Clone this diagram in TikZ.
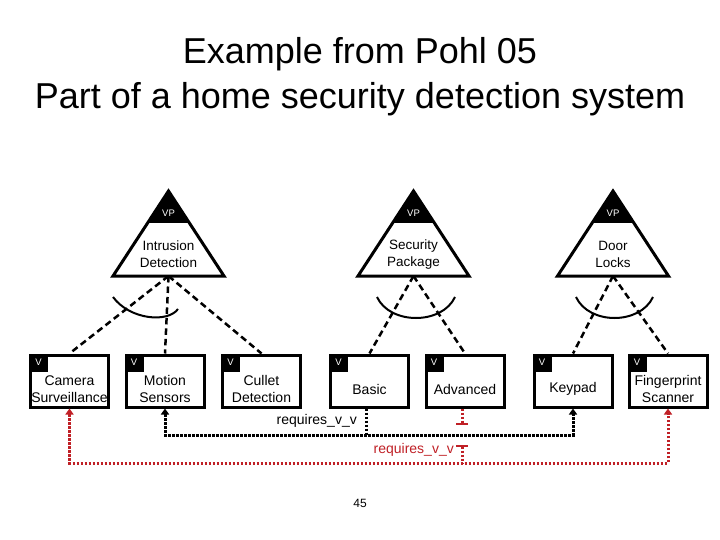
\documentclass[tikz,border=0pt]{standalone}
\usepackage{fontspec}
\setmainfont{Liberation Sans}
\usetikzlibrary{arrows.meta}
\definecolor{reqred}{RGB}{192,32,38}
\tikzset{
  varboxst/.style={draw, line width=3pt, minimum width=78pt, minimum height=52pt, inner sep=0pt},
  btext/.style={align=center, font=\fontsize{14}{17}\selectfont, inner sep=0pt},
  ttext/.style={align=center, font=\fontsize{13.5}{17}\selectfont, inner sep=0pt},
  tagtext/.style={text=white, font=\fontsize{9.5}{10}\selectfont, inner sep=0pt},
  tri/.style={draw, line width=3pt, line join=miter},
  vpdash/.style={line width=2.5pt, dash pattern=on 6.5pt off 4pt},
  varc/.style={line width=2pt},
  reqblk/.style={line width=3pt, dash pattern=on 2.5pt off 1.5pt, black},
  reqrd/.style={line width=3pt, dash pattern=on 2.5pt off 1.5pt, reqred},
  tipb/.style={{Triangle[width=8pt,length=6pt]}-{Triangle[width=8pt,length=6pt]}},
  reqlabel/.style={font=\fontsize{14}{17}\selectfont, inner sep=0pt}
}
\newcommand\vptriangle[3]{%
  \fill ({#2},191) -- ({#2-20.9},223) -- ({#2+20.9},223) -- cycle;
  \draw[tri] ({#2},191) -- ({#2-55.5},276) -- ({#2+55.5},276) -- cycle;
  \node[tagtext] (#1vp) at ({#2},213.5) {VP};
  \node[ttext] (#1) at ({#2},254.5) {#3};
  \coordinate (#1b) at ({#2},276);
}
\newcommand\varbox[3]{%
  \node[varboxst] (#1) at ({#2},381) {};
  \fill (#1.north west) rectangle ++(19,18);
  \node[tagtext] (#1v) at ([shift={(9.5,9)}]#1.north west) {V};
  \node[btext] (#1t) at ({#2},389) {#3};
}
\begin{document}
\begin{tikzpicture}[x=1pt,y=-1pt]
\fill[white] (0,0) rectangle (720,540);
\useasboundingbox (0,0) rectangle (720,540);

\node[align=center, font=\fontsize{36}{45}\selectfont, inner sep=0pt] (title) at (360,77)
  {Example from Pohl 05\\Part of a home security detection system};

\vptriangle{intr}{168.5}{Intrusion\\Detection}
\vptriangle{sec}{413.5}{Security\\Package}
\vptriangle{door}{613}{Door\\Locks}

\varbox{cam}{69.5}{Camera\\Surveillance}
\varbox{ms}{165}{Motion\\Sensors}
\varbox{cd}{261.5}{Cullet\\Detection}
\varbox{basic}{369.5}{Basic}
\varbox{adv}{465}{Advanced}
\varbox{kp}{573}{Keypad}
\varbox{fp}{668}{Fingerprint\\Scanner}

% variation point links
\draw[vpdash] (intrb) -- (cam.north);
\draw[vpdash] (intrb) -- (ms.north);
\draw[vpdash] (intrb) -- (cd.north);
\draw[vpdash] (secb) -- (basic.north);
\draw[vpdash] (secb) -- (adv.north);
\draw[vpdash] (doorb) -- (kp.north);
\draw[vpdash] (doorb) -- (fp.north);

% alternative arcs
\draw[varc] (113,297) .. controls (130,320) and (168,323) .. (178,309);
\draw[varc] (377,297) .. controls (390,325) and (442,325) .. (455,297);
\draw[varc] (576,297) .. controls (589,325) and (640,325) .. (653,297);

% black requires
\coordinate (bjtop) at ([xshift=-3.5pt]basic.south);
\coordinate (bj) at (366,435);
\draw[reqblk] (bjtop) -- (bj);
\draw[reqblk, tipb] (ms.south) -- (ms.south |- bj) -- (kp.south |- bj) -- (kp.south);
\node[reqlabel, anchor=east] (reqb) at (357,421) {requires\_v\_v};

% red requires
\coordinate (rtop) at ([xshift=-3pt]adv.south);
\coordinate (rbar) at (462,425);
\coordinate (rtee) at (462,445);
\coordinate (rj) at (462,463);
\draw[reqrd, -{Bar[width=12pt,line width=2pt]}] (rtop) -- (rbar);
\draw[reqrd, {Bar[width=12pt,line width=2pt]}-] (rtee) -- (rj);
\draw[reqrd, tipb] (cam.south) -- (cam.south |- rj) -- (fp.south |- rj) -- (fp.south);
\node[reqlabel, text=reqred, anchor=east] (reqr) at (454,450) {requires\_v\_v};

\node[font=\fontsize{12}{14}\selectfont, inner sep=0pt] (page) at (360,503) {45};
\end{tikzpicture}
\end{document}
